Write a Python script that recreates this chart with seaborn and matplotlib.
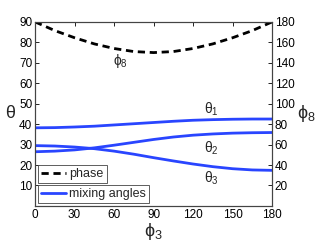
import matplotlib
matplotlib.use("Agg")
import matplotlib.pyplot as plt
import seaborn as sns
import pandas as pd

sns.set_style("white")
plt.rcParams['font.family'] = ['Liberation Sans', 'DejaVu Sans']
plt.rcParams['mathtext.fontset'] = 'custom'
plt.rcParams['mathtext.rm'] = 'Liberation Sans'
plt.rcParams['mathtext.it'] = 'Liberation Sans'

phi3 = [0, 15, 30, 45, 60, 75, 90, 105, 120, 135, 150, 165, 180]
phase = [180, 171.5, 164.5, 158.5, 154, 151, 150, 151, 154, 158.5, 164.5, 171.5, 180]
theta1 = [38.2, 38.3, 38.6, 39.0, 39.6, 40.2, 40.8, 41.4, 41.9, 42.2, 42.4, 42.5, 42.5]
theta2 = [26.5, 26.8, 27.4, 28.4, 29.7, 31.1, 32.5, 33.7, 34.6, 35.2, 35.6, 35.8, 35.9]
theta3 = [29.5, 29.3, 28.8, 28.0, 26.8, 25.3, 23.6, 22.0, 20.5, 19.2, 18.2, 17.6, 17.4]

xticks = [0, 30, 60, 90, 120, 150, 180]
yticks_left = [10, 20, 30, 40, 50, 60, 70, 80, 90]
yticks_right = [20, 40, 60, 80, 100, 120, 140, 160, 180]

blue = (0.16, 0.27, 1.0)
df = pd.DataFrame({"phi3": phi3, "phase": phase, "t1": theta1, "t2": theta2, "t3": theta3})

fig = plt.figure(figsize=(3.16, 2.49), dpi=100)
ax = fig.add_axes([0.111, 0.173, 0.750, 0.739])
ax2 = ax.twinx()

sns.lineplot(data=df, x="phi3", y="t1", ax=ax, color=blue, lw=2, legend=False)
sns.lineplot(data=df, x="phi3", y="t2", ax=ax, color=blue, lw=2, legend=False)
sns.lineplot(data=df, x="phi3", y="t3", ax=ax, color=blue, lw=2, legend=False)
sns.lineplot(data=df, x="phi3", y="phase", ax=ax2, color="black", lw=2,
             linestyle=(0, (2.6, 1.7)), legend=False)

ax.set_xlim(0, 180)
ax.set_ylim(0, 90)
ax2.set_ylim(0, 180)
ax.set_xticks(xticks)
ax.set_yticks(yticks_left)
ax2.set_yticks(yticks_right)

for a in (ax, ax2):
    a.tick_params(direction="in", length=3, width=0.6, labelsize=8.5, pad=2, colors="black")
    for s in a.spines.values():
        s.set_linewidth(0.8)
        s.set_color("#444444")
ax.tick_params(top=True, right=False)

ax.set_xlabel(r"$\phi_3$", fontsize=13, labelpad=0)
ax.set_ylabel(r"$\theta$", fontsize=13, rotation=0, labelpad=6, va="center")
ax2.set_ylabel(r"$\phi_8$", fontsize=13, rotation=0, labelpad=8, va="center")

ax.text(65, 71, r"$\phi_8$", fontsize=10, ha="center", va="center")
ax.text(134, 47.5, r"$\theta_1$", fontsize=10, ha="center", va="center")
ax.text(134, 28, r"$\theta_2$", fontsize=10, ha="center", va="center")
ax.text(134, 13.3, r"$\theta_3$", fontsize=10, ha="center", va="center")

blue_line = ax.get_lines()[0]
phase_line = ax2.get_lines()[0]
common = dict(fontsize=9, handlelength=2.0, handletextpad=0.3, borderpad=0.25,
              borderaxespad=0.2, fancybox=False, framealpha=1, edgecolor="#444444")
leg1 = ax2.legend([phase_line], ["phase"], loc="lower left",
                  bbox_to_anchor=(0.0, 0.11), **common)
leg1.get_frame().set_linewidth(0.6)
ax2.add_artist(leg1)
leg2 = ax2.legend([blue_line], ["mixing angles"], loc="lower left",
                  bbox_to_anchor=(0.0, 0.0), **common)
leg2.get_frame().set_linewidth(0.6)

fig.savefig("out.png", dpi=100)
